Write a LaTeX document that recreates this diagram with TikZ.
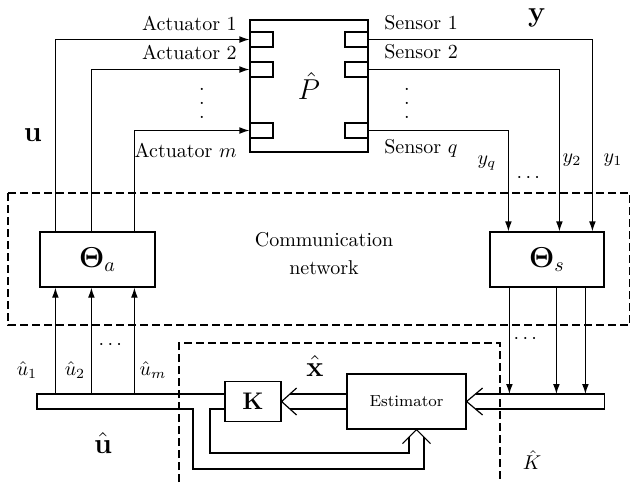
\documentclass[tikz,border=0pt]{standalone}
\usepackage{amsmath}
\usepackage{amssymb}
\usepackage{tikz}
\usetikzlibrary{arrows.meta,calc}

\begin{document}
\begin{tikzpicture}[x=0.5pt,y=-0.5pt,line width=0.6pt,
  >={Latex[length=5pt,width=3.4pt]},
  blk/.style={draw,inner sep=0pt},
  port/.style={draw,inner sep=0pt,minimum width=11.5pt,minimum height=7.5pt},
  netbox/.style={draw,dash pattern=on 4pt off 2pt}]
  \useasboundingbox (0,0) rectangle (630,484);

  % plant and its ports
  \node[blk,minimum width=59pt,minimum height=66pt,font=\Large] (P) at (309,86) {$\hat{P}$};
  \foreach \n/\y in {1/39.5,2/69.5,m/130.5}
    \node[port] (a\n) at (261.5,\y) {};
  \foreach \n/\y in {1/39.5,2/69.5,q/130.5}
    \node[port] (s\n) at (356.5,\y) {};

  \node[anchor=east] (la1) at (244,23) {Actuator 1};
  \node[anchor=east] (la2) at (244,52) {Actuator 2};
  \node[anchor=east] (lam) at (244,150) {Actuator $m$};
  \node[anchor=west] (ls1) at (377,23) {Sensor 1};
  \node[anchor=west] (ls2) at (377,52) {Sensor 2};
  \node[anchor=west] (lsq) at (377,148) {Sensor $q$};
  \foreach \y in {89,103,117} {
    \node[inner sep=0pt] at (202,\y) {.};
    \node[inner sep=0pt] at (407,\y) {.};
  }

  % communication network
  \draw[netbox] (8,193) rectangle (630,325);
  \node[align=center] (net) at (324,254) {Communication\\[2pt]network};
  \node[blk,minimum width=57.5pt,minimum height=27.5pt,font=\Large] (Ta) at (97.5,259.5) {$\boldsymbol{\Theta}_a$};
  \node[blk,minimum width=57pt,minimum height=27.5pt,font=\Large] (Ts) at (547,259.5) {$\boldsymbol{\Theta}_s$};

  \foreach \n/\dx in {1/16,2/52,m/95}
    \draw[->] ($(Ta.north west)+(\dx,0)$) |- (a\n.west);
  \foreach \n/\dx in {1/103,2/70,q/19}
    \draw[->] (s\n.east) -| ($(Ts.north west)+(\dx,0)$);

  \node[font=\Large] (u) at (33,135) {$\mathbf{u}$};
  \node[font=\Large] (y) at (537,18) {$\mathbf{y}$};
  \node (yq) at (487,163) {$y_q$};
  \node (y2) at (572,160) {$y_2$};
  \node (y1) at (613,160) {$y_1$};
  \node (ydots) at (530,178) {$\cdots$};

  % controller
  \draw[netbox] (179,482) |- (500,343) -- (500,482);
  \node (Khat) at (532,460) {$\hat{K}$};
  \node[blk,minimum width=28pt,minimum height=20pt,font=\large] (K) at (253,401.5) {$\mathbf{K}$};
  \node[blk,minimum width=59.5pt,minimum height=27.5pt,font=\footnotesize] (Est) at (406.5,401.5) {Estimator};

  \coordinate (bt) at (0,394);
  \coordinate (bb) at (0,409);
  \coordinate (fb) at ($(Est.south)+(10,0)$);

  % u-hat bus
  \draw (K.west |- bt) -- (37,394) -- (37,409) -- (193,409) -- (193,469) -| ($(fb)+(7.5,7.5)$);
  \draw (K.west |- bb) -- (210,409) -- (210,453) -| ($(fb)+(-7.5,7.5)$);
  \draw ($(fb)+(-14,14)$) -- (fb) -- ($(fb)+(14,14)$);

  % x-hat bus
  \draw (Est.west |- bt) -- ($(K.east |- bt)+(8.3,0)$);
  \draw (Est.west |- bb) -- ($(K.east |- bb)+(8.3,0)$);
  \draw ($(K.east)+(15,-13.5)$) -- (K.east) -- ($(K.east)+(15,13.5)$);

  % y-hat bus
  \draw ($(Est.east |- bt)+(8.9,0)$) -- (Ts.east |- bt) -- (Ts.east |- bb) -- ($(Est.east |- bb)+(8.9,0)$);
  \draw ($(Est.east)+(16,-13.5)$) -- (Est.east) -- ($(Est.east)+(16,13.5)$);

  \foreach \dx in {20,67,96}
    \draw[->] ($(Ts.south west)+(\dx,0)$) coordinate (tmp) -- (tmp |- bt);
  \foreach \dx in {16,52,95}
    \draw[<-] ($(Ta.south west)+(\dx,0)$) coordinate (tmp) -- (tmp |- bt);

  \node (u1) at (27,370) {$\hat{u}_1$};
  \node (u2) at (75,370) {$\hat{u}_2$};
  \node (um) at (153,370) {$\hat{u}_m$};
  \node (udots) at (112,345) {$\cdots$};
  \node (edots) at (527,339) {$\cdots$};
  \node[font=\Large] (uhat) at (103,443) {$\hat{\mathbf{u}}$};
  \node[font=\Large] (xhat) at (315,366) {$\hat{\mathbf{x}}$};
\end{tikzpicture}
\end{document}
